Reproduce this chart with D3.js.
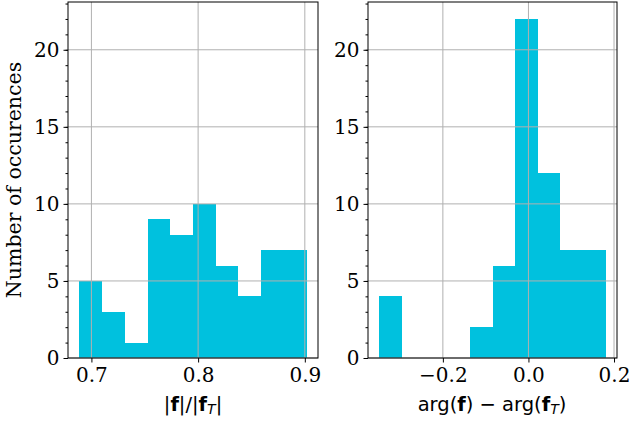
<!DOCTYPE html>
<html>
<head>
<meta charset="utf-8">
<script src="https://cdn.jsdelivr.net/npm/d3@7"></script>
<style>
body { margin: 0; background: #fff; }
</style>
</head>
<body>
<script>
// histogram counts
var magEdgeMin = 0.6887, magBinWidth = 0.0213;
var magCounts = [5, 3, 1, 9, 8, 10, 6, 4, 7, 7];
var magTicks = [0.7, 0.8, 0.9];

var argEdgeMin = -0.3485, argBinWidth = 0.0529;
var argCounts = [4, 0, 0, 0, 2, 6, 22, 12, 7, 7];
var argTicks = [-0.2, 0.0, 0.2];

var yTicks = [0, 5, 10, 15, 20];

var W = 632, H = 424;
var barColor = "#00c1de";
var gridColor = "#b0b0b0";
var serif = "'DejaVu Serif', serif";
var sans = "'DejaVu Sans', sans-serif";
var tickSize = 20;

var svg = d3.select("body").append("svg")
	.attr("width", W)
	.attr("height", H);

var plotTop = 2, plotBottom = 358;
var y = d3.scaleLinear().domain([0, 23.1]).range([plotBottom, plotTop]);

function panel(left, right, edgeMin, binW, counts, ticks, fmt){
	var n = counts.length;
	var edgeMax = edgeMin + n * binW;
	var pad = (edgeMax - edgeMin) * 0.05;
	var x = d3.scaleLinear().domain([edgeMin - pad, edgeMax + pad]).range([left, right]);
	var g = svg.append("g");

	// bars
	g.selectAll("rect.bar").data(counts).enter().append("rect")
		.attr("class", "bar")
		.attr("x", function(d, i){ return x(edgeMin + i * binW); })
		.attr("width", function(d, i){ return x(edgeMin + (i + 1) * binW) - x(edgeMin + i * binW); })
		.attr("y", function(d){ return y(d); })
		.attr("height", function(d){ return y(0) - y(d); })
		.attr("fill", barColor)
		.attr("shape-rendering", "crispEdges");

	// grid on top of bars
	g.selectAll("line.gx").data(ticks).enter().append("line")
		.attr("x1", function(d){ return x(d); })
		.attr("x2", function(d){ return x(d); })
		.attr("y1", plotTop).attr("y2", plotBottom)
		.attr("stroke", gridColor).attr("stroke-width", 1);
	g.selectAll("line.gy").data(yTicks).enter().append("line")
		.attr("x1", left).attr("x2", right)
		.attr("y1", function(d){ return y(d); })
		.attr("y2", function(d){ return y(d); })
		.attr("stroke", gridColor).attr("stroke-width", 1);

	// axes
	var xAxis = d3.axisBottom(x).tickValues(ticks).tickFormat(fmt).tickSize(4.5).tickPadding(5);
	var ax = g.append("g").attr("transform", "translate(0," + plotBottom + ")").call(xAxis);
	ax.select(".domain").remove();
	ax.selectAll("text").attr("font-family", serif).attr("font-size", tickSize).attr("fill", "#000");

	var yMinor = d3.range(0, 24);
	var ay2 = g.append("g").attr("transform", "translate(" + left + ",0)")
		.call(d3.axisLeft(y).tickValues(yMinor).tickSize(2.5).tickFormat(""));
	ay2.select(".domain").remove();

	var ay = g.append("g").attr("transform", "translate(" + left + ",0)")
		.call(d3.axisLeft(y).tickValues(yTicks).tickSize(4.5).tickPadding(4));
	ay.select(".domain").remove();
	ay.selectAll("text").attr("font-family", serif).attr("font-size", tickSize).attr("fill", "#000");

	// frame
	g.append("rect")
		.attr("x", left).attr("y", plotTop)
		.attr("width", right - left).attr("height", plotBottom - plotTop)
		.attr("fill", "none").attr("stroke", "#000").attr("stroke-width", 1);

	return x;
}

var fmt1 = function(d){ return d3.format(".1f")(d).replace("-", "\u2212"); };
panel(68, 318, magEdgeMin, magBinWidth, magCounts, magTicks, fmt1);
panel(368, 617, argEdgeMin, argBinWidth, argCounts, argTicks, fmt1);

// y label
svg.append("text")
	.attr("transform", "translate(21,180) rotate(-90)")
	.attr("text-anchor", "middle")
	.attr("font-family", serif)
	.attr("font-size", 20.5)
	.text("Number of occurences");

// x labels (mathtext style)
var lx = svg.append("text")
	.attr("x", 193).attr("y", 411)
	.attr("text-anchor", "middle")
	.attr("font-family", sans)
	.attr("font-size", 19.5);
lx.append("tspan").text("|");
lx.append("tspan").attr("font-weight", "bold").text("f");
lx.append("tspan").text("|/|");
lx.append("tspan").attr("font-weight", "bold").text("f");
lx.append("tspan").attr("font-style", "italic").attr("font-size", 14).attr("dy", 3).text("T");
lx.append("tspan").attr("dy", -3).text("|");

var rx = svg.append("text")
	.attr("x", 492).attr("y", 411)
	.attr("text-anchor", "middle")
	.attr("font-family", sans)
	.attr("font-size", 19.5);
rx.append("tspan").text("arg(");
rx.append("tspan").attr("font-weight", "bold").text("f");
rx.append("tspan").text(") \u2212 arg(");
rx.append("tspan").attr("font-weight", "bold").text("f");
rx.append("tspan").attr("font-style", "italic").attr("font-size", 14).attr("dy", 3).text("T");
rx.append("tspan").attr("dy", -3).text(")");
</script>
</body>
</html>
